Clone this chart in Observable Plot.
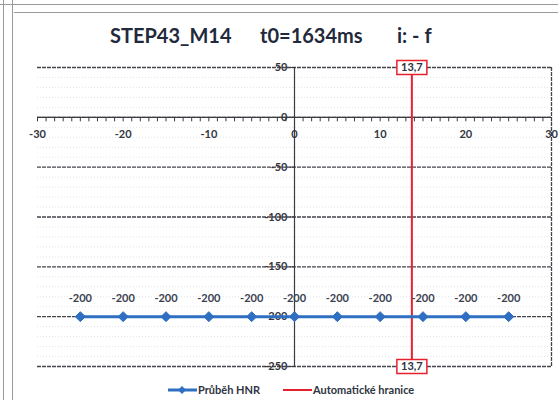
<!DOCTYPE html>
<html>
<head>
<meta charset="utf-8">
<script src="https://cdn.jsdelivr.net/npm/d3@7"></script>
<script src="https://cdn.jsdelivr.net/npm/@observablehq/plot@0.6"></script>
<style>
  html, body { margin: 0; padding: 0; background: #fff; }
  #page { position: relative; width: 558px; height: 400px; overflow: hidden; background: #fff; font-family: Lato, "Open Sans", sans-serif; }
  .deco { position: absolute; background: #9a9a9a; }
  .title { position: absolute; top: 23px; font-size: 20px; font-weight: bold; color: #1f2a3c; white-space: nowrap; line-height: 24px; }
  #chart { position: absolute; left: 0; top: 50px; }
  #legend { position: absolute; top: 383px; left: 0; width: 558px; height: 17px; font-size: 11px; font-weight: bold; color: #2f3542; }
  #legend .item { position: absolute; top: 0; display: flex; align-items: center; white-space: nowrap; }
</style>
</head>
<body>
<div id="page">
  <div class="deco" style="left:0;top:4px;width:558px;height:1px"></div>
  <div class="deco" style="left:14px;top:12px;width:544px;height:1px"></div>
  <div class="deco" style="left:3px;top:0;width:1px;height:400px"></div>
  <div class="deco" style="left:12px;top:0;width:1px;height:400px"></div>
  <span class="title" style="left:110px">STEP43_M14</span>
  <span class="title" style="left:260px">t0=1634ms</span>
  <span class="title" style="left:397px">i: - f</span>
  <div id="chart"></div>
  <div id="legend">
    <div class="item" style="left:168px"><svg width="29" height="12"><line x1="0" y1="6" x2="29" y2="6" stroke="#2f6fc2" stroke-width="3"/><path d="M14,2 L18,6 L14,10 L10,6 Z" fill="#2f6fc2"/></svg><span style="margin-left:1px">Průběh HNR</span></div>
    <div class="item" style="left:283px"><svg width="29" height="12"><line x1="0" y1="6" x2="29" y2="6" stroke="#e8202e" stroke-width="2"/></svg><span style="margin-left:1px">Automatické hranice</span></div>
  </div>
</div>
<script>
// ---- data ----
const xValues = [-25, -20, -15, -10, -5, 0, 5, 10, 15, 20, 25];
const hnrValues = [-200, -200, -200, -200, -200, -200, -200, -200, -200, -200, -200];
const boundary = [13.7];
const xTickLabels = [-30, -20, -10, 0, 10, 20, 30];
const yTickLabels = [50, 0, -50, -100, -150, -200, -250];

const blue = "#2f6fc2";
const red = "#e8202e";
const points = xValues.map((x, i) => ({x, y: hnrValues[i]}));

const yMinor = d3.range(-250, 51, 10).filter(v => v % 50 !== 0);
const xMinor = d3.range(-30, 31, 1);
const fmtComma = v => String(v).replace(".", ",");

const tickDown = {draw(ctx) { ctx.moveTo(0, 0); ctx.lineTo(0, 4); }};
const tickLeft = {draw(ctx) { ctx.moveTo(-5, 0); ctx.lineTo(0, 0); }};
const boxSym = {draw(ctx) { ctx.moveTo(-15, -7); ctx.lineTo(15, -7); ctx.lineTo(15, 7); ctx.lineTo(-15, 7); ctx.closePath(); }};

const chart = Plot.plot({
  width: 558,
  height: 330,
  marginLeft: 37,
  marginRight: 7,
  marginTop: 17,
  marginBottom: 14,
  x: {domain: [-30, 30], axis: null},
  y: {domain: [-250, 50], axis: null},
  style: {fontFamily: "Lato, 'Open Sans', sans-serif", background: "transparent"},
  marks: [
    Plot.ruleY(yMinor, {stroke: "#e2e4e8", strokeWidth: 1, strokeDasharray: "1,2"}),
    Plot.ruleY(yTickLabels, {stroke: "#44464c", strokeWidth: 1.3, strokeDasharray: "4,1"}),
    Plot.ruleX([30], {y1: -250, y2: 50, stroke: "#44464c", strokeWidth: 1.3, strokeDasharray: "4,1"}),
    Plot.ruleY([0], {stroke: "#3a3c42", strokeWidth: 1.2}),
    Plot.ruleX([0], {y1: -250, y2: 50, stroke: "#3a3c42", strokeWidth: 1.2}),
    Plot.dot(xMinor, {x: d => d, y: () => 0, symbol: tickDown, fill: "none", stroke: "#3a3c42", strokeWidth: 1}),
    Plot.dot(yTickLabels, {x: () => 0, y: d => d, symbol: tickLeft, fill: "none", stroke: "#3a3c42", strokeWidth: 1}),
    Plot.text(xTickLabels, {x: d => d, y: () => 0, dy: 17, text: d => String(d), fontSize: 11, fontWeight: "bold", fill: "#33363d"}),
    Plot.text(yTickLabels, {x: () => 0, y: d => d, dx: -7, textAnchor: "end", text: d => String(d), fontSize: 11, fontWeight: "bold", fill: "#33363d"}),
    Plot.ruleX(boundary, {x: d => d, y1: -250, y2: 50, stroke: red, strokeWidth: 2}),
    Plot.line(points, {x: "x", y: "y", stroke: blue, strokeWidth: 3}),
    Plot.dot(points, {x: "x", y: "y", symbol: "diamond2", r: 4.5, fill: blue, stroke: blue, strokeWidth: 1}),
    Plot.text(points, {x: "x", y: "y", dy: -18, text: d => String(d.y), fontSize: 11, fontWeight: "bold", fill: "#3a4150"}),
    Plot.dot(boundary, {x: d => d, y: () => 50, symbol: boxSym, fill: "white", stroke: red, strokeWidth: 1.5}),
    Plot.dot(boundary, {x: d => d, y: () => -250, symbol: boxSym, fill: "white", stroke: red, strokeWidth: 1.5}),
    Plot.text(boundary, {x: d => d, y: () => 50, text: d => fmtComma(d), fontSize: 11, fontWeight: "bold", fill: "#2a3040"}),
    Plot.text(boundary, {x: d => d, y: () => -250, text: d => fmtComma(d), fontSize: 11, fontWeight: "bold", fill: "#2a3040"})
  ]
});
document.getElementById("chart").appendChild(chart);
</script>
</body>
</html>
